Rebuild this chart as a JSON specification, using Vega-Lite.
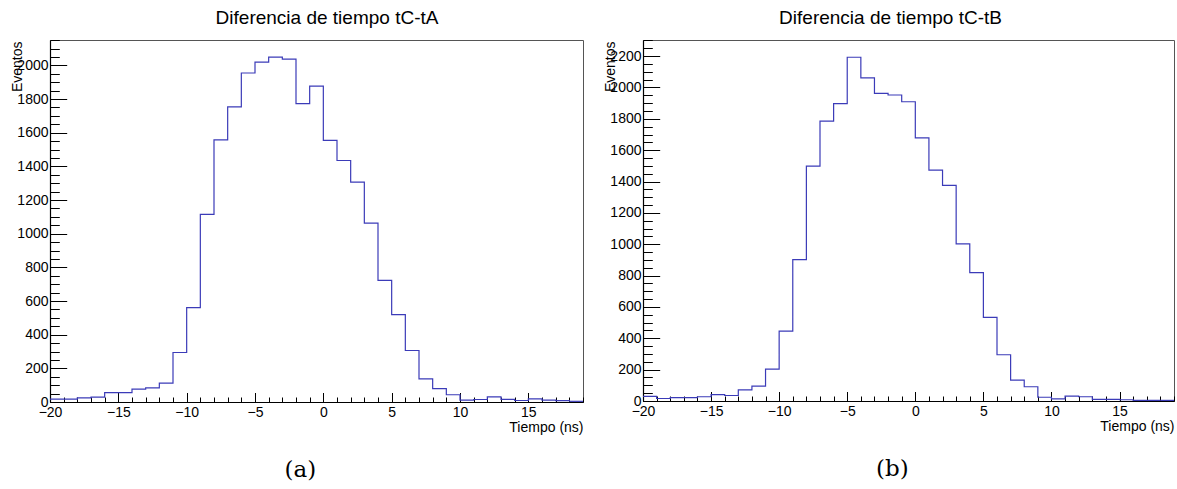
{
  "$schema": "https://vega.github.io/schema/vega-lite/v6.json",
  "background": "white",
  "padding": {"left": 9, "top": 8, "right": 5, "bottom": 0},
  "datasets": {
    "a": [
      {"lo": -20, "hi": -19, "count": 17}, {"lo": -19, "hi": -18, "count": 17}, {"lo": -18, "hi": -17, "count": 25},
      {"lo": -17, "hi": -16, "count": 29}, {"lo": -16, "hi": -15, "count": 56}, {"lo": -15, "hi": -14, "count": 56},
      {"lo": -14, "hi": -13, "count": 76}, {"lo": -13, "hi": -12, "count": 84}, {"lo": -12, "hi": -11, "count": 112},
      {"lo": -11, "hi": -10, "count": 294}, {"lo": -10, "hi": -9, "count": 561}, {"lo": -9, "hi": -8, "count": 1115},
      {"lo": -8, "hi": -7, "count": 1558}, {"lo": -7, "hi": -6, "count": 1754}, {"lo": -6, "hi": -5, "count": 1955},
      {"lo": -5, "hi": -4, "count": 2019}, {"lo": -4, "hi": -3, "count": 2049}, {"lo": -3, "hi": -2, "count": 2037},
      {"lo": -2, "hi": -1, "count": 1773}, {"lo": -1, "hi": 0, "count": 1877}, {"lo": 0, "hi": 1, "count": 1554},
      {"lo": 1, "hi": 2, "count": 1435}, {"lo": 2, "hi": 3, "count": 1307}, {"lo": 3, "hi": 4, "count": 1063},
      {"lo": 4, "hi": 5, "count": 723}, {"lo": 5, "hi": 6, "count": 519}, {"lo": 6, "hi": 7, "count": 306},
      {"lo": 7, "hi": 8, "count": 138}, {"lo": 8, "hi": 9, "count": 80}, {"lo": 9, "hi": 10, "count": 43},
      {"lo": 10, "hi": 11, "count": 11}, {"lo": 11, "hi": 12, "count": 15}, {"lo": 12, "hi": 13, "count": 31},
      {"lo": 13, "hi": 14, "count": 16}, {"lo": 14, "hi": 15, "count": 9}, {"lo": 15, "hi": 16, "count": 18},
      {"lo": 16, "hi": 17, "count": 11}, {"lo": 17, "hi": 18, "count": 8}, {"lo": 18, "hi": 19, "count": 4}
    ],
    "b": [
      {"lo": -20, "hi": -19, "count": 29}, {"lo": -19, "hi": -18, "count": 16}, {"lo": -18, "hi": -17, "count": 22},
      {"lo": -17, "hi": -16, "count": 22}, {"lo": -16, "hi": -15, "count": 27}, {"lo": -15, "hi": -14, "count": 41},
      {"lo": -14, "hi": -13, "count": 35}, {"lo": -13, "hi": -12, "count": 71}, {"lo": -12, "hi": -11, "count": 95},
      {"lo": -11, "hi": -10, "count": 203}, {"lo": -10, "hi": -9, "count": 446}, {"lo": -9, "hi": -8, "count": 902},
      {"lo": -8, "hi": -7, "count": 1498}, {"lo": -7, "hi": -6, "count": 1786}, {"lo": -6, "hi": -5, "count": 1897},
      {"lo": -5, "hi": -4, "count": 2193}, {"lo": -4, "hi": -3, "count": 2061}, {"lo": -3, "hi": -2, "count": 1963},
      {"lo": -2, "hi": -1, "count": 1952}, {"lo": -1, "hi": 0, "count": 1909}, {"lo": 0, "hi": 1, "count": 1679},
      {"lo": 1, "hi": 2, "count": 1473}, {"lo": 2, "hi": 3, "count": 1375}, {"lo": 3, "hi": 4, "count": 1002},
      {"lo": 4, "hi": 5, "count": 819}, {"lo": 5, "hi": 6, "count": 534}, {"lo": 6, "hi": 7, "count": 295},
      {"lo": 7, "hi": 8, "count": 133}, {"lo": 8, "hi": 9, "count": 91}, {"lo": 9, "hi": 10, "count": 24},
      {"lo": 10, "hi": 11, "count": 14}, {"lo": 11, "hi": 12, "count": 31}, {"lo": 12, "hi": 13, "count": 27},
      {"lo": 13, "hi": 14, "count": 11}, {"lo": 14, "hi": 15, "count": 11}, {"lo": 15, "hi": 16, "count": 8},
      {"lo": 16, "hi": 17, "count": 4}, {"lo": 17, "hi": 18, "count": 4}, {"lo": 18, "hi": 19, "count": 4}
    ]
  },
  "config": {
    "view": {"stroke": "#555555", "strokeWidth": 1},
    "font": "Liberation Sans",
    "concat": {"spacing": 17},
    "axis": {
      "grid": false,
      "labelFont": "Liberation Sans",
      "labelFontSize": 14,
      "labelColor": "black",
      "labelOverlap": false,
      "labelFlush": false,
      "domainColor": "black",
      "domainWidth": 1.2,
      "tickColor": "black",
      "tickWidth": 1,
      "titleFont": "Liberation Sans",
      "titleFontSize": 14,
      "titleFontWeight": "normal",
      "titleColor": "black"
    }
  },
  "hconcat": [
    {
      "title": {"text": "(a)", "orient": "bottom", "anchor": "middle", "font": "DejaVu Serif", "fontSize": 23, "fontWeight": "normal", "color": "black", "dx": 3.5, "offset": 23.5},
      "vconcat": [
        {
          "width": 533,
          "height": 362,
          "title": {"text": "Diferencia de tiempo tC-tA", "font": "Liberation Sans", "fontSize": 19, "fontWeight": "normal", "color": "black", "anchor": "middle", "dx": 10.5, "baseline": "alphabetic", "offset": -3},
          "data": {"name": "a"},
          "resolve": {"axis": {"x": "independent", "y": "independent"}},
          "layer": [
            {
              "mark": {"type": "line", "interpolate": "step-after", "color": "#3b3bb8", "strokeWidth": 1.2},
              "encoding": {
                "x": {"field": "lo", "type": "quantitative",
                  "scale": {"domain": [-20, 19], "nice": false, "zero": false},
                  "axis": {
                    "orient": "bottom",
                    "values": [-20, -15, -10, -5, 0, 5, 10, 15],
                    "tickSize": -9.5,
                    "labelPadding": 13,
                    "title": "Tiempo (ns)", "titleAnchor": "end", "titleAlign": "right", "titleBaseline": "alphabetic", "titleX": 533, "titleY": 29.5
                  }},
                "y": {"field": "count", "type": "quantitative",
                  "scale": {"domain": [0, 2151], "nice": false},
                  "axis": {
                    "orient": "left",
                    "values": [0, 200, 400, 600, 800, 1000, 1200, 1400, 1600, 1800, 2000],
                    "format": "d",
                    "tickSize": -16.7,
                    "labelPadding": 18.7,
                    "title": "Eventos", "titleAnchor": "end", "titleAlign": "right", "titleBaseline": "alphabetic", "titleX": -29, "titleY": 1
                  }}
              }
            },
            {
              "transform": [{"filter": "datum.lo === 18"}],
              "mark": {"type": "rule", "color": "#3b3bb8", "strokeWidth": 1.2},
              "encoding": {
                "x": {"field": "lo", "type": "quantitative",
                  "axis": {
                    "orient": "bottom",
                    "values": [-20,-19,-18,-17,-16,-15,-14,-13,-12,-11,-10,-9,-8,-7,-6,-5,-4,-3,-2,-1,0,1,2,3,4,5,6,7,8,9,10,11,12,13,14,15,16,17,18,19],
                    "tickSize": -5, "labels": false, "domain": false, "title": null
                  }},
                "x2": {"field": "hi"},
                "y": {"field": "count", "type": "quantitative",
                  "axis": {
                    "orient": "left",
                    "values": [0,50,100,150,200,250,300,350,400,450,500,550,600,650,700,750,800,850,900,950,1000,1050,1100,1150,1200,1250,1300,1350,1400,1450,1500,1550,1600,1650,1700,1750,1800,1850,1900,1950,2000,2050,2100,2150],
                    "tickSize": -9.3, "labels": false, "domain": false, "title": null
                  }}
              }
            }
          ]
        }
      ]
    },
    {
      "title": {"text": "(b)", "orient": "bottom", "anchor": "middle", "font": "DejaVu Serif", "fontSize": 23, "fontWeight": "normal", "color": "black", "dx": 3.5, "offset": 23.5},
      "vconcat": [
        {
          "width": 531,
          "height": 361,
          "title": {"text": "Diferencia de tiempo tC-tB", "font": "Liberation Sans", "fontSize": 19, "fontWeight": "normal", "color": "black", "anchor": "middle", "dx": -18, "baseline": "alphabetic", "offset": -3},
          "data": {"name": "b"},
          "resolve": {"axis": {"x": "independent", "y": "independent"}},
          "layer": [
            {
              "mark": {"type": "line", "interpolate": "step-after", "color": "#3b3bb8", "strokeWidth": 1.2},
              "encoding": {
                "x": {"field": "lo", "type": "quantitative",
                  "scale": {"domain": [-20, 19], "nice": false, "zero": false},
                  "axis": {
                    "orient": "bottom",
                    "values": [-20, -15, -10, -5, 0, 5, 10, 15],
                    "tickSize": -9.5,
                    "labelPadding": 13,
                    "title": "Tiempo (ns)", "titleAnchor": "end", "titleAlign": "right", "titleBaseline": "alphabetic", "titleX": 531, "titleY": 29.5
                  }},
                "y": {"field": "count", "type": "quantitative",
                  "scale": {"domain": [0, 2303], "nice": false},
                  "axis": {
                    "orient": "left",
                    "values": [0, 200, 400, 600, 800, 1000, 1200, 1400, 1600, 1800, 2000, 2200],
                    "format": "d",
                    "tickSize": -16.7,
                    "labelPadding": 18.7,
                    "title": "Eventos", "titleAnchor": "end", "titleAlign": "right", "titleBaseline": "alphabetic", "titleX": -29, "titleY": 1
                  }}
              }
            },
            {
              "transform": [{"filter": "datum.lo === 18"}],
              "mark": {"type": "rule", "color": "#3b3bb8", "strokeWidth": 1.2},
              "encoding": {
                "x": {"field": "lo", "type": "quantitative",
                  "axis": {
                    "orient": "bottom",
                    "values": [-20,-19,-18,-17,-16,-15,-14,-13,-12,-11,-10,-9,-8,-7,-6,-5,-4,-3,-2,-1,0,1,2,3,4,5,6,7,8,9,10,11,12,13,14,15,16,17,18,19],
                    "tickSize": -5, "labels": false, "domain": false, "title": null
                  }},
                "x2": {"field": "hi"},
                "y": {"field": "count", "type": "quantitative",
                  "axis": {
                    "orient": "left",
                    "values": [0,50,100,150,200,250,300,350,400,450,500,550,600,650,700,750,800,850,900,950,1000,1050,1100,1150,1200,1250,1300,1350,1400,1450,1500,1550,1600,1650,1700,1750,1800,1850,1900,1950,2000,2050,2100,2150,2200,2250,2300],
                    "tickSize": -9.3, "labels": false, "domain": false, "title": null
                  }}
              }
            }
          ]
        }
      ]
    }
  ]
}
